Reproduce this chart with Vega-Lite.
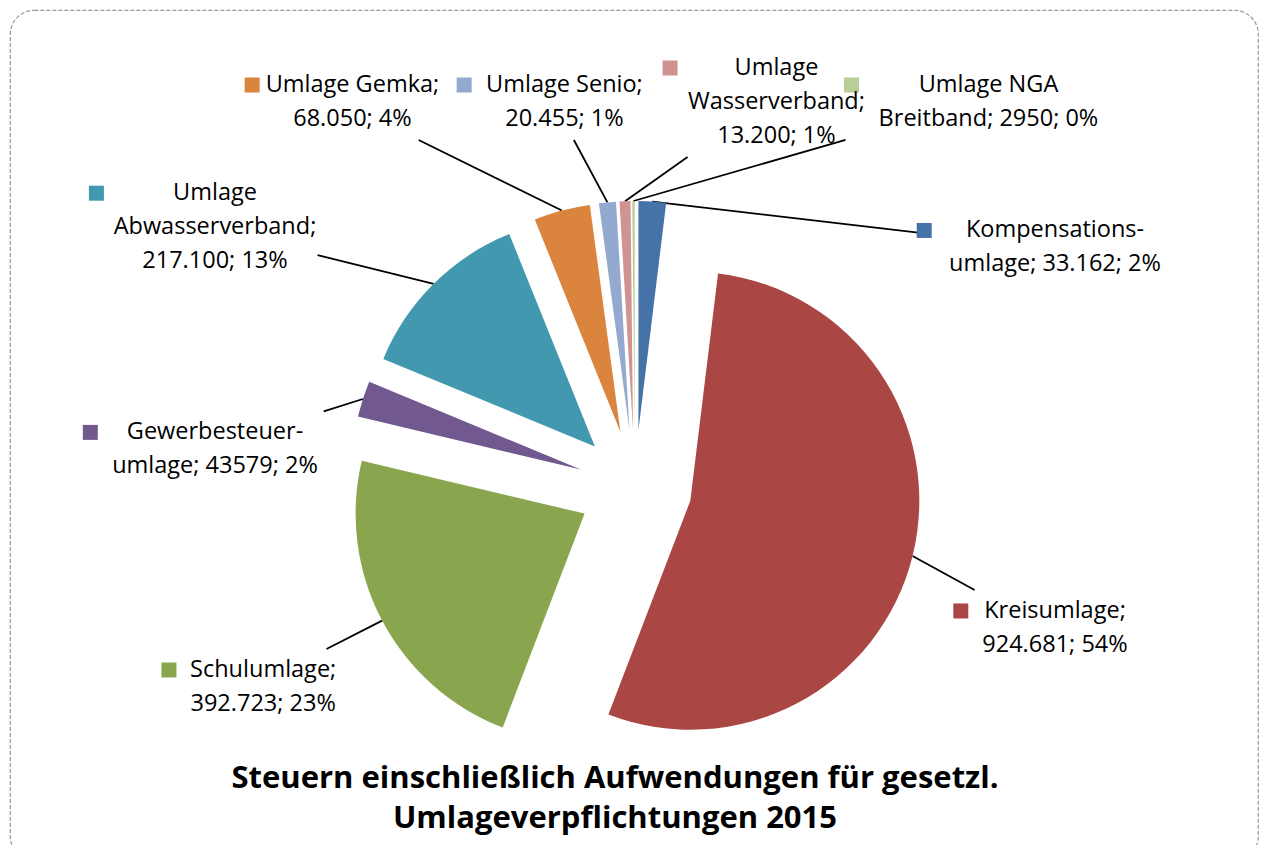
{
  "$schema": "https://vega.github.io/schema/vega-lite/v6.json",
  "width": 1248,
  "height": 850,
  "autosize": {"type": "none"},
  "padding": {"left": 10, "top": 10, "right": 7, "bottom": -15},
  "background": "white",
  "title": {
    "text": ["Steuern einschließlich Aufwendungen für gesetzl.", "Umlageverpflichtungen 2015"],
    "orient": "bottom",
    "anchor": "middle",
    "font": "Open Sans",
    "fontSize": 31,
    "fontWeight": "bold",
    "color": "black",
    "lineHeight": 40,
    "offset": -96,
    "dx": -19
  },
  "data": {
    "values": [
      {"name": "Kompensationsumlage", "value": 33162, "label": "Kompensations-\numlage; 33.162; 2%"},
      {"name": "Kreisumlage", "value": 924681, "label": "Kreisumlage;\n924.681; 54%"},
      {"name": "Schulumlage", "value": 392723, "label": "Schulumlage;\n392.723; 23%"},
      {"name": "Gewerbesteuerumlage", "value": 43579, "label": "Gewerbesteuer-\numlage; 43579; 2%"},
      {"name": "Umlage Abwasserverband", "value": 217100, "label": "Umlage\nAbwasserverband;\n217.100; 13%"},
      {"name": "Umlage Gemka", "value": 68050, "label": "Umlage Gemka;\n68.050; 4%"},
      {"name": "Umlage Senio", "value": 20455, "label": "Umlage Senio;\n20.455; 1%"},
      {"name": "Umlage Wasserverband", "value": 13200, "label": "Umlage\nWasserverband;\n13.200; 1%"},
      {"name": "Umlage NGA Breitband", "value": 2950, "label": "Umlage NGA\nBreitband; 2950; 0%"}
    ]
  },
  "transform": [
    {"window": [{"op": "sum", "field": "value", "as": "cum"}], "frame": [null, 0]},
    {"joinaggregate": [{"op": "sum", "field": "value", "as": "total"}]},
    {"calculate": "2*PI*(datum.cum - datum.value)/datum.total", "as": "a0"},
    {"calculate": "2*PI*datum.cum/datum.total", "as": "a1"},
    {"calculate": "(datum.a0 + datum.a1)/2", "as": "mid"},
    {"calculate": "57*sin(datum.mid)", "as": "ax"},
    {"calculate": "-57*cos(datum.mid)", "as": "ay"},
    {"calculate": "sin(datum.mid)", "as": "sx"},
    {"calculate": "cos(datum.mid)", "as": "cy"},
    {"calculate": "420/max(abs(datum.sx), 1e-9)", "as": "tx"},
    {"calculate": "datum.cy > 0 ? 385/datum.cy : 200/max(-datum.cy, 1e-9)", "as": "ty"},
    {"calculate": "min(datum.tx, datum.ty)", "as": "tt"},
    {"calculate": "datum.tt*datum.sx", "as": "qx"},
    {"calculate": "-datum.tt*datum.cy", "as": "qy"},
    {"calculate": "datum.tx <= datum.ty ? (datum.sx < 0 ? 620 - datum.qy : 2230 + datum.qy) : (datum.cy > 0 ? 1425 + datum.qx : (datum.qx <= 0 ? -datum.qx : 2850 - datum.qx))", "as": "s"},
    {"window": [{"op": "row_number", "as": "k"}], "sort": [{"field": "s"}]},
    {"calculate": "datum.s - 212*datum.k", "as": "z"},
    {"window": [{"op": "max", "field": "z", "as": "zf"}], "sort": [{"field": "s"}], "frame": [null, 0]},
    {"window": [{"op": "min", "field": "z", "as": "zb"}], "sort": [{"field": "s"}], "frame": [0, 5]},
    {"calculate": "0.75*datum.zf + 0.25*datum.zb + 212*datum.k", "as": "s2"},
    {"calculate": "datum.s2 < 420 ? -datum.s2 : datum.s2 < 1005 ? -420 : datum.s2 < 1845 ? datum.s2 - 1425 : datum.s2 < 2430 ? 420 : 2850 - datum.s2", "as": "lx"},
    {"calculate": "datum.s2 < 420 ? 200 : datum.s2 < 1005 ? 620 - datum.s2 : datum.s2 < 1845 ? -385 : datum.s2 < 2430 ? datum.s2 - 2230 : 200", "as": "ly"},
    {"calculate": "split(datum.label, '\\n')", "as": "lines"},
    {"calculate": "length(datum.lines)", "as": "nl"},
    {"calculate": "max(length(datum.lines[0]), length(datum.lines[1] || ''), length(datum.lines[2] || ''))", "as": "nc"},
    {"calculate": "datum.nc*12.2/2", "as": "hw"},
    {"calculate": "datum.ly - (datum.nl - 1)*17", "as": "tyy"},
    {"calculate": "datum.lx - datum.hw - 21", "as": "kx"},
    {"calculate": "286*sin(datum.mid)", "as": "p1x"},
    {"calculate": "-286*cos(datum.mid)", "as": "p1y"},
    {"calculate": "datum.p1x - (datum.lx - 11)", "as": "ddx"},
    {"calculate": "datum.p1y - datum.ly", "as": "ddy"},
    {"calculate": "min((datum.hw + 16)/max(abs(datum.ddx), 0.001), (datum.nl*17 + 4)/max(abs(datum.ddy), 0.001))", "as": "t"},
    {"calculate": "datum.lx - 11 + datum.t*datum.ddx", "as": "p2x"},
    {"calculate": "datum.ly + datum.t*datum.ddy", "as": "p2y"}
  ],
  "layer": [
    {
      "mark": {"type": "rule", "color": "black", "strokeWidth": 1.8},
      "encoding": {
        "x": {"field": "p1x", "type": "quantitative", "scale": {"domain": [-625, 623], "zero": false, "nice": false}, "axis": null},
        "y": {"field": "p1y", "type": "quantitative", "scale": {"domain": [-477, 373], "zero": false, "nice": false, "reverse": true}, "axis": null},
        "x2": {"field": "p2x"},
        "y2": {"field": "p2y"}
      }
    },
    {
      "mark": {"type": "arc", "radius": 229},
      "encoding": {
        "x": {"field": "ax", "type": "quantitative", "scale": {"domain": [-625, 623], "zero": false, "nice": false}, "axis": null},
        "y": {"field": "ay", "type": "quantitative", "scale": {"domain": [-477, 373], "zero": false, "nice": false, "reverse": true}, "axis": null},
        "theta": {"field": "a0", "type": "quantitative", "scale": null, "stack": null},
        "theta2": {"field": "a1"},
        "color": {
          "field": "name", "type": "nominal", "legend": null,
          "scale": {
            "domain": ["Kompensationsumlage", "Kreisumlage", "Schulumlage", "Gewerbesteuerumlage", "Umlage Abwasserverband", "Umlage Gemka", "Umlage Senio", "Umlage Wasserverband", "Umlage NGA Breitband"],
            "range": ["#4572A7", "#AA4643", "#89A54E", "#71588F", "#4198AF", "#DB843D", "#93A9CF", "#D19392", "#B9CD96"]
          }
        }
      }
    },
    {
      "mark": {"type": "square", "size": 225, "filled": true, "opacity": 1},
      "encoding": {
        "x": {"field": "kx", "type": "quantitative", "scale": {"domain": [-625, 623], "zero": false, "nice": false}, "axis": null},
        "y": {"field": "tyy", "type": "quantitative", "scale": {"domain": [-477, 373], "zero": false, "nice": false, "reverse": true}, "axis": null},
        "color": {"field": "name", "type": "nominal", "legend": null}
      }
    },
    {
      "mark": {"type": "text", "font": "Open Sans", "fontSize": 23.5, "lineHeight": 34, "lineBreak": "\n", "align": "center", "baseline": "middle", "color": "black"},
      "encoding": {
        "x": {"field": "lx", "type": "quantitative", "scale": {"domain": [-625, 623], "zero": false, "nice": false}, "axis": null},
        "y": {"field": "tyy", "type": "quantitative", "scale": {"domain": [-477, 373], "zero": false, "nice": false, "reverse": true}, "axis": null},
        "text": {"field": "label"}
      }
    }
  ],
  "config": {
    "view": {"stroke": "#9a9a9a", "strokeDash": [4, 2], "strokeWidth": 1.2, "cornerRadius": 24}
  }
}
